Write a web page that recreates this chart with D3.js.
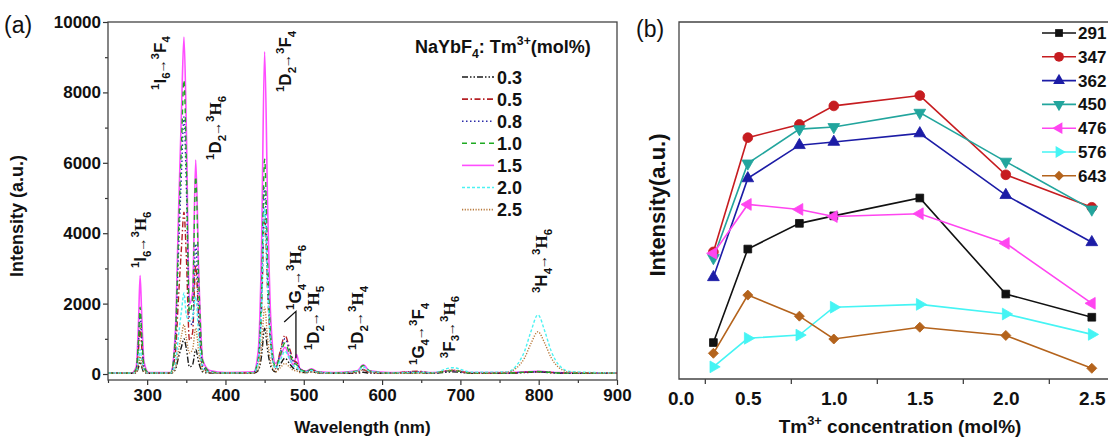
<!DOCTYPE html>
<html><head><meta charset="utf-8">
<script src="https://cdn.jsdelivr.net/npm/d3@7"></script>
<style>body{margin:0;background:#fff} svg{display:block} text{font-family:"Liberation Sans",Arial,sans-serif}</style>
</head><body><svg id="c" width="1108" height="437"></svg>
<script>
// ---------------- DATA: panel (a) emission spectra ----------------
const wavelengths = [250,280,286,289,291,293,296,302,330,336,340,344,347,350,354,358,362,366,371,380,400,
  436,442,446,450,454,458,464,470,476,482,487,491,495,503,510,518,540,568,576,584,610,645,665,690,715,
  760,772,782,790,799,808,816,826,840,900];
const concLabels = ["0.3","0.5","0.8","1.0","1.5","2.0","2.5"];
const spec03 = [20,20,30,190,350,210,45,20, 20,125,470,790,1000,730,200,265,700,320,60,30,20,
  25,100,500,1300,650,210,60, 270,450,290,160,135,70,40,60,30,20, 25,50,25,20, 30,20,60,20,
  20,30,40,50,60,50,35,25,20,20];
const spec05 = [25,25,95,700,1300,790,160,25, 25,580,2160,3650,4600,3360,960,1170,3100,1430,200,50,25,
  35,345,1720,4500,2260,740,150, 660,1100,715,385,330,165,70,120,50,25, 50,120,50,25, 80,30,100,25,
  25,40,50,55,60,55,45,30,25,25];
const spec08 = [25,25,120,910,1700,1030,210,25, 25,915,3430,5800,7300,5340,1530,1400,3700,1700,245,60,25,
  40,405,2030,5300,2660,870,175, 600,1000,650,350,300,150,70,120,50,25, 55,130,55,25, 60,30,90,25,
  25,40,50,55,60,55,45,30,25,25];
const spec10 = [25,25,135,1020,1900,1150,240,25, 25,1050,3930,6630,8350,6110,1750,2120,5600,2580,370,70,25,
  40,465,2330,6100,3070,1000,200, 530,880,570,310,265,130,75,130,55,25, 90,240,90,25, 40,30,100,25,
  25,40,55,65,70,60,45,30,25,25];
const spec15 = [30,30,200,1500,2800,1700,350,40, 40,1200,4500,7600,9570,7000,2000,2300,6080,2800,400,100,40,
  60,700,3500,9150,4600,1500,300, 500,760,450,250,550,150,80,150,60,40, 90,260,90,40, 55,40,100,40,
  40,50,60,70,75,65,50,40,35,35];
const spec20 = [30,30,50,375,700,425,90,30, 30,290,1080,1820,2300,1680,1500,1600,2200,1010,145,50,30,
  40,360,1800,4700,2360,770,155, 390,650,420,230,195,100,60,100,45,30, 75,200,75,30, 45,40,180,50,
  60,250,650,1200,1680,1200,650,250,70,30];
const spec25 = [25,25,40,270,500,300,65,25, 25,175,660,1110,1400,1020,600,700,1300,600,90,40,25,
  30,145,730,1900,955,310,65, 180,300,195,105,90,45,40,60,30,25, 50,130,50,25, 20,30,110,25,
  50,180,460,860,1200,860,460,180,50,25];
const spectra = [spec03,spec05,spec08,spec10,spec15,spec20,spec25];
const xTicksA = [300,400,500,600,700,800,900];
const xMinorA = [250,350,450,550,650,750,850];
const yTicksA = [0,2000,4000,6000,8000,10000];
const yMinorA = [1000,3000,5000,7000,9000];

// ---------------- DATA: panel (b) peak intensities ----------------
const bConc = [0.3,0.5,0.8,1.0,1.5,2.0,2.5];
const b291 = [10.2,36.4,43.6,45.7,50.7,23.8,17.3];
const b347 = [35.6,67.6,71.3,76.5,79.4,57.2,48.1];
const b362 = [28.5,56.2,65.5,66.4,68.8,51.5,38.3];
const b450 = [33.9,60.4,70.0,70.6,74.6,60.9,47.5];
const b476 = [35.2,48.9,47.5,45.5,46.3,38.0,21.2];
const b576 = [3.4,11.4,12.3,20.1,20.9,18.2,12.5];
const b643 = [7.2,23.5,17.6,11.2,14.5,12.2,3.0];
const bSeriesNames = ["291","347","362","450","476","576","643"];
const bSeries = [b291,b347,b362,b450,b476,b576,b643];
const bTickVals = [0.11,0.5,1.0,1.5,2.0,2.5];
const bTickLabels = ["0.0","0.5","1.0","1.5","2.0","2.5"];
const bMinor = [0.25,0.75,1.25,1.75,2.25];

// ---------------- annotations (data coordinates) ----------------
const annotations = [
  {lam:291, I:3010, parts:[["1","sup"],["I",""],["6","sub"],["→","arrow"],["3","sup"],["H","serif"],["6","sub"]]},
  {lam:316, I:8070, parts:[["1","sup"],["I",""],["6","sub"],["→","arrow"],["3","sup"],["F",""],["4","sub"]]},
  {lam:387, I:6080, parts:[["1","sup"],["D",""],["2","sub"],["→","arrow"],["3","sup"],["H","serif"],["6","sub"]]},
  {lam:476, I:8010, parts:[["1","sup"],["D",""],["2","sub"],["→","arrow"],["3","sup"],["F",""],["4","sub"]]},
  {lam:489, I:1820, parts:[["1","sup"],["G",""],["4","sub"],["→","arrow"],["3","sup"],["H","serif"],["6","sub"]]},
  {lam:512, I:680,  parts:[["1","sup"],["D",""],["2","sub"],["→","arrow"],["3","sup"],["H","serif"],["5","sub"]]},
  {lam:568, I:680,  parts:[["1","sup"],["D",""],["2","sub"],["→","arrow"],["3","sup"],["H","serif"],["4","sub"]]},
  {lam:646, I:255,  parts:[["1","sup"],["G",""],["4","sub"],["→","arrow"],["3","sup"],["F",""],["4","sub"]]},
  {lam:685, I:450,  parts:[["3","sup"],["F",""],["3","sub"],["→","arrow"],["3","sup"],["H","serif"],["6","sub"]]},
  {lam:803, I:2300, parts:[["3","sup"],["H",""],["4","sub"],["→","arrow"],["3","sup"],["H","serif"],["6","sub"]]}
];

// ---------------- helpers ----------------
const svg = d3.select("#c");
function rich(sel, parts, size) {
  let cur = 0;
  parts.forEach(([t, kind]) => {
    const target = kind === "sup" ? -0.42*size : kind === "sub" ? 0.28*size : 0;
    const small = (kind === "sup" || kind === "sub");
    const ts = sel.append("tspan").attr("dy", (target - cur).toFixed(2))
      .attr("font-size", small ? size*0.68 : (kind === "arrow" ? size*0.85 : size)).text(t);
    if (kind === "serif") ts.attr("font-family", '"Liberation Serif", "Times New Roman", serif');
    if (kind === "arrow") ts.attr("dx", -1.5).attr("font-family", '"Liberation Sans", Arial, sans-serif');
    cur = target;
  });
}
function styleAxis(g, fs) {
  g.select(".domain").remove();
  g.selectAll(".tick line").attr("stroke", "#333").attr("stroke-width", 1.2);
  g.selectAll(".tick text").attr("font-size", fs).attr("font-weight", "bold").attr("fill", "#111")
    .attr("font-family", '"Liberation Sans", Arial, sans-serif');
}

// ================= PANEL (a) =================
const A = {l:108, r:617, t:22, b:380};
const xA = d3.scaleLinear().domain([250,900]).range([A.l, A.r]);
const yA = d3.scaleLinear().domain([-170,10000]).range([A.b, A.t]);

svg.append("defs").append("clipPath").attr("id","clipA")
  .append("rect").attr("x",A.l).attr("y",A.t).attr("width",A.r-A.l).attr("height",A.b-A.t);

const styles = [
  {c:"#1a1a1a", d:"6,2,1.5,2,1.5,2"},
  {c:"#b52025", d:"6,2.5,1.5,2.5"},
  {c:"#2b2ba8", d:"1.5,2.5"},
  {c:"#1faa22", d:"5,4"},
  {c:"#ff4dff", d:null},
  {c:"#4cf2f2", d:"3,2"},
  {c:"#b87a3c", d:"1.2,1.5"}
];
const line = d3.line().x((d,i)=>xA(wavelengths[i])).y(d=>yA(d)).curve(d3.curveMonotoneX);
const gLines = svg.append("g").attr("clip-path","url(#clipA)");
const order = [4,0,1,2,3,5,6];
order.forEach(k => {
  gLines.append("path").attr("d", line(spectra[k])).attr("fill","none")
    .attr("stroke", styles[k].c).attr("stroke-width", k===4?1.6:1.4)
    .attr("stroke-dasharray", styles[k].d);
});

// axes (a)
styleAxis(svg.append("g").attr("transform",`translate(0,${A.b})`)
  .call(d3.axisBottom(xA).tickValues(xMinorA).tickSize(3).tickFormat("")), 16);
styleAxis(svg.append("g").attr("transform",`translate(0,${A.b})`)
  .call(d3.axisBottom(xA).tickValues(xTicksA).tickSize(5).tickPadding(4).tickFormat(d3.format("d"))), 17);
styleAxis(svg.append("g").attr("transform",`translate(${A.l},0)`)
  .call(d3.axisLeft(yA).tickValues(yMinorA).tickSize(3).tickFormat("")), 16);
styleAxis(svg.append("g").attr("transform",`translate(${A.l},0)`)
  .call(d3.axisLeft(yA).tickValues(yTicksA).tickSize(5).tickPadding(2).tickFormat(d3.format("d"))), 17);
svg.append("rect").attr("x",A.l).attr("y",A.t).attr("width",A.r-A.l).attr("height",A.b-A.t)
  .attr("fill","none").attr("stroke","#444").attr("stroke-width",1.3);

// annotations (a)
annotations.forEach(a => {
  const t = svg.append("text").attr("font-weight","bold").attr("fill","#111")
    .attr("transform",`translate(${xA(a.lam)+6},${yA(a.I)}) rotate(-90)`);
  rich(t, a.parts, 17);
});
// leader lines for 1G4->3H6
svg.append("path").attr("fill","none").attr("stroke","#111").attr("stroke-width",1.3)
  .attr("d", `M${xA(475)},${yA(1480)}L${xA(490)},${yA(1780)}L${xA(490)},${yA(450)}`);

// legend (a)
const legA = svg.append("g");
rich(legA.append("text").attr("x",415).attr("y",53).attr("font-weight","bold").attr("fill","#111"),
  [["NaYbF",""],["4","sub"],[": Tm",""],["3+","sup"],["(mol%)",""]], 18);
concLabels.forEach((c,i) => {
  const y = 77 + i*22.1;
  legA.append("line").attr("x1",462).attr("x2",494).attr("y1",y).attr("y2",y)
    .attr("stroke",styles[i].c).attr("stroke-width",1.6).attr("stroke-dasharray",styles[i].d);
  legA.append("text").attr("x",497).attr("y",y+6.5).attr("font-size",18).attr("font-weight","bold")
    .attr("fill","#111").text(c);
});

// titles (a)
svg.append("text").attr("x",4).attr("y",33).attr("font-size",23).attr("fill","#111").text("(a)");
svg.append("text").attr("transform",`translate(23,${(A.t+A.b)/2+15}) rotate(-90)`).attr("text-anchor","middle")
  .attr("font-size",18).attr("font-weight","bold").attr("fill","#111").text("Intensity (a.u.)");
svg.append("text").attr("x",(A.l+A.r)/2).attr("y",433).attr("text-anchor","middle")
  .attr("font-size",17).attr("font-weight","bold").attr("fill","#111").text("Wavelength (nm)");

// ================= PANEL (b) =================
const B = {l:679, r:1109, t:22, b:379};
const xB = d3.scaleLinear().domain([0.1,2.6]).range([B.l, B.r]);
const yB = d3.scaleLinear().domain([0,100]).range([B.b, B.t]);

const bColors = ["#111111","#c61c20","#1c1ca6","#22a59d","#ff45f0","#45f4f4","#b4631c"];
const sym = [
  {t:d3.symbolSquare, s:60, r:0},
  {t:d3.symbolCircle, s:75, r:0},
  {t:d3.symbolTriangle, s:60, r:0},
  {t:d3.symbolTriangle, s:60, r:180},
  {t:d3.symbolTriangle, s:60, r:-90},
  {t:d3.symbolTriangle, s:60, r:90},
  {t:d3.symbolSquare, s:50, r:45}
];
const lineB = d3.line().x((d,i)=>xB(bConc[i])).y(d=>yB(d));
bSeries.forEach((s,k) => {
  const g = svg.append("g");
  g.append("path").attr("d", lineB(s)).attr("fill","none").attr("stroke",bColors[k]).attr("stroke-width",1.6);
  s.forEach((v,i) => {
    g.append("path").attr("d", d3.symbol().type(sym[k].t).size(sym[k].s)())
      .attr("transform",`translate(${xB(bConc[i])},${yB(v)}) rotate(${sym[k].r})`)
      .attr("fill",bColors[k]).attr("stroke",bColors[k]).attr("stroke-width",0.8);
  });
});

// axes (b)
styleAxis(svg.append("g").attr("transform",`translate(0,${B.b})`)
  .call(d3.axisBottom(xB).tickValues(bMinor).tickSize(5).tickFormat("")), 17);
styleAxis(svg.append("g").attr("transform",`translate(0,${B.b})`)
  .call(d3.axisBottom(xB).tickValues(bTickVals).tickSize(0).tickPadding(13)
    .tickFormat((d,i)=>bTickLabels[i])), 19);
svg.append("path").attr("fill","none").attr("stroke","#444").attr("stroke-width",1.3)
  .attr("d",`M${B.r},${B.t}H${B.l}V${B.b}H${B.r}`);

// legend (b)
bSeriesNames.forEach((n,k) => {
  const y = 33 + k*23.8;
  svg.append("line").attr("x1",1042).attr("x2",1076).attr("y1",y).attr("y2",y)
    .attr("stroke",bColors[k]).attr("stroke-width",1.6);
  svg.append("path").attr("d", d3.symbol().type(sym[k].t).size(sym[k].s)())
    .attr("transform",`translate(1059,${y}) rotate(${sym[k].r})`).attr("fill",bColors[k]);
  svg.append("text").attr("x",1078).attr("y",y+6).attr("font-size",17).attr("font-weight","bold")
    .attr("fill","#111").text(n);
});

// titles (b)
svg.append("text").attr("x",636).attr("y",37).attr("font-size",23).attr("fill","#111").text("(b)");
svg.append("text").attr("transform",`translate(665,205) rotate(-90)`).attr("text-anchor","middle")
  .attr("font-size",22).attr("font-weight","bold").attr("fill","#111").text("Intensity(a.u.)");
const xt = svg.append("text").attr("x",900).attr("y",433).attr("text-anchor","middle")
  .attr("font-weight","bold").attr("fill","#111");
rich(xt, [["Tm",""],["3+","sup"],[" concentration (mol%)",""]], 19);
</script></body></html>
